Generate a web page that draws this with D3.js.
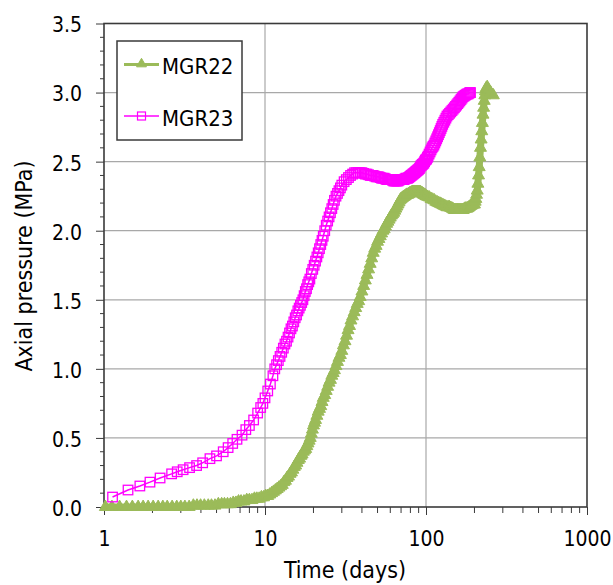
<!DOCTYPE html>
<html>
<head>
<meta charset="utf-8">
<script src="https://cdn.jsdelivr.net/npm/d3@7"></script>
<style>
  html, body { margin: 0; padding: 0; background: #fff; }
  svg { display: block; }
  text { font-family: "DejaVu Sans Condensed", "DejaVu Sans", sans-serif; font-stretch: condensed; fill: #000; }
</style>
</head>
<body>
<svg id="chart" width="613" height="585"></svg>
<script>
// ---------- data: [time (days), axial pressure (MPa)] ----------
const seriesNames = ["MGR22", "MGR23"];

const mgr22 = [
[1.02,0],[1.12,0],[1.25,0],[1.38,0],[1.5,0],[1.63,0],[1.75,0],[1.88,0],[2.02,0],[2.17,0],
[2.32,0],[2.47,0],[2.65,0],[2.83,0],[3.0,0],[3.18,0],[3.38,0],[3.59,0.01],[3.78,0.01],[3.98,0.01],
[4.2,0.01],[4.44,0.01],[4.65,0.01],[4.89,0.01],[5.13,0.02],[5.38,0.02],[5.6,0.02],[5.85,0.02],[6.1,0.02],[6.35,0.03],
[6.6,0.03],[6.85,0.04],[7.1,0.04],[7.4,0.04],[7.7,0.05],[8.0,0.05],[8.3,0.05],[8.6,0.06],[8.9,0.06],[9.2,0.06],
[9.5,0.07],[9.8,0.07],[10.1,0.08],[10.4,0.08],[10.7,0.09],[11.0,0.10],[11.3,0.11],[11.6,0.12],[11.9,0.13],[12.2,0.14],
[12.5,0.15],[12.8,0.16],[13.1,0.18],[13.4,0.19],[13.7,0.21],[14.0,0.22],[14.3,0.24],[14.6,0.25],[14.9,0.27],[15.2,0.29],
[15.5,0.30],[15.8,0.32],[16.1,0.34],[16.4,0.35],[16.7,0.37],[17.0,0.38],[17.3,0.40],[17.6,0.41],[17.9,0.42],[18.2,0.44],
[18.5,0.46],[18.8,0.48],[19.1,0.50],[19.4,0.53],[19.7,0.56],[20.0,0.59],[20.3,0.61],[20.6,0.63],[21.0,0.66],[21.4,0.69],
[21.8,0.71],[22.2,0.73],[22.6,0.76],[23.0,0.79],[23.5,0.81],[24.0,0.84],[24.5,0.87],[25.0,0.90],[25.5,0.92],[26.0,0.95],
[26.5,0.97],[27.0,0.99],[27.6,1.02],[28.2,1.05],[28.8,1.08],[29.4,1.10],[30.0,1.13],[30.7,1.17],[31.4,1.20],[32.1,1.24],
[32.8,1.28],[33.5,1.31],[34.2,1.35],[35.0,1.38],[35.8,1.41],[36.6,1.44],[37.4,1.47],[38.2,1.49],[39.0,1.52],[40.0,1.56],
[41.0,1.60],[42.0,1.64],[43.0,1.68],[44.0,1.72],[45.0,1.76],[46.0,1.80],[47.0,1.84],[48.0,1.87],[49.0,1.89],[50,1.92],
[51,1.94],[52,1.96],[53,1.98],[54,2.0],[55,2.01],[56,2.03],[57,2.05],[58,2.065],[59,2.08],[60,2.095],
[61,2.11],[62,2.12],[63,2.13],[64,2.145],[65,2.16],[66,2.175],[67,2.19],[68,2.205],[69,2.22],[70,2.23],
[71,2.235],[72,2.24],[73,2.245],[74,2.25],[75,2.255],[76,2.26],[77,2.26],[78,2.265],[79,2.27],[80,2.27],
[81,2.275],[82,2.28],[83,2.28],[84,2.28],[85,2.28],[86,2.28],[87,2.28],[88,2.28],[89,2.28],[90,2.28],
[91,2.28],[92,2.28],[93,2.275],[94,2.27],[95,2.27],[96,2.265],[97,2.26],[98,2.26],[99,2.255],[100,2.25],
[102.5,2.245],[105,2.24],[107.5,2.23],[110,2.225],[112.5,2.22],[115,2.21],[117.5,2.205],[120,2.20],[122.5,2.195],[125,2.19],
[127.5,2.185],[130,2.18],[132.5,2.175],[135,2.17],[137.5,2.17],[140,2.17],[142.5,2.165],[145,2.16],[147.5,2.155],[150,2.15],
[152.5,2.15],[155,2.15],[157.5,2.15],[160,2.15],[162.5,2.15],[165,2.15],[167.5,2.15],[170,2.15],[172.5,2.155],[175,2.16],
[177.5,2.16],[180,2.16],[182.5,2.165],[185,2.17],[187.5,2.175],[190,2.18],[192.5,2.185],[195,2.19],[197.5,2.19],[200,2.19],
[202,2.21],[204,2.23],[206,2.26],[208,2.29],[210,2.34],[212,2.40],[214,2.46],[216,2.53],[218,2.60],[220,2.66],
[222,2.72],[224,2.78],[226,2.84],[228,2.89],[230,2.94],[232,2.98],[234,3.01],[236,3.03],[240,3.04],[245,3.02],
[252,3.0],[262,2.98]
];

const mgr23 = [
[1.13,0.072],[1.41,0.123],[1.67,0.152],[1.93,0.18],[2.23,0.21],[2.63,0.24],[2.85,0.255],[3.1,0.27],[3.4,0.285],[3.76,0.30],
[4.1,0.32],[4.55,0.35],[5.0,0.37],[5.5,0.40],[5.9,0.43],[6.3,0.46],[6.7,0.49],[7.2,0.52],[7.6,0.56],[8.0,0.59],
[8.5,0.63],[9.0,0.68],[9.4,0.72],[9.7,0.75],[10.0,0.79],[10.4,0.84],[10.8,0.89],[11.2,0.95],[11.5,1.00],[11.8,1.03],
[12.1,1.06],[12.4,1.09],[12.7,1.12],[13.0,1.15],[13.3,1.18],[13.6,1.20],[13.9,1.23],[14.2,1.26],[14.5,1.29],[14.8,1.31],
[15.1,1.34],[15.4,1.37],[15.7,1.39],[16.0,1.42],[16.3,1.44],[16.6,1.46],[16.9,1.48],[17.2,1.50],[17.5,1.53],[17.8,1.56],
[18.1,1.58],[18.4,1.61],[18.7,1.63],[19.0,1.65],[19.4,1.69],[19.8,1.72],[20.2,1.75],[20.6,1.78],[21.0,1.81],[21.4,1.84],
[21.8,1.87],[22.2,1.90],[22.6,1.93],[23.0,1.96],[23.5,2.00],[24.0,2.04],[24.5,2.07],[25.0,2.10],[25.5,2.13],[26.0,2.16],
[26.5,2.19],[27.0,2.22],[27.6,2.25],[28.2,2.27],[28.8,2.29],[29.4,2.31],[30,2.33],[31,2.355],[32,2.37],[33,2.385],
[34,2.40],[35,2.41],[36,2.42],[37,2.42],[38,2.42],[39,2.42],[40,2.42],[41,2.415],[42,2.41],[43,2.41],
[44,2.405],[45,2.40],[46,2.40],[47,2.40],[48,2.395],[49,2.39],[50,2.39],[51,2.39],[52,2.385],[53,2.38],
[54,2.38],[55,2.38],[56,2.375],[57,2.37],[58,2.37],[59,2.37],[60,2.37],[61,2.37],[62,2.365],[63,2.36],
[64,2.36],[65,2.36],[66,2.36],[67,2.36],[68,2.365],[69,2.37],[70,2.37],[71,2.37],[72,2.37],[73,2.37],
[74,2.375],[75,2.38],[76,2.38],[77,2.38],[78,2.385],[79,2.39],[80,2.395],[81,2.40],[82,2.405],[83,2.41],
[84,2.415],[85,2.42],[86,2.425],[87,2.43],[88,2.435],[89,2.44],[90,2.445],[91,2.45],[92,2.46],[93,2.47],
[94,2.475],[95,2.48],[96,2.485],[97,2.49],[98,2.50],[99,2.51],[100,2.515],[101,2.52],[102,2.53],[103,2.54],
[104.5,2.555],[106,2.57],[107.5,2.585],[109,2.60],[110.5,2.61],[112,2.62],[113.5,2.635],[115,2.65],[116.5,2.665],[118,2.68],
[119.5,2.695],[121,2.71],[122.5,2.725],[124,2.74],[125.5,2.755],[127,2.77],[129,2.785],[131,2.80],[133,2.815],[135,2.83],
[137.5,2.84],[140,2.85],[142.5,2.86],[145,2.87],[147.5,2.88],[150,2.89],[152.5,2.90],[155,2.91],[157.5,2.92],[160,2.93],
[162.5,2.94],[165,2.95],[167.5,2.96],[170,2.97],[172.5,2.975],[175,2.98],[177.5,2.985],[180,2.99],[182.5,2.99],[185,2.995],
[187,3.00],[189,3.00]
];

const xTickValues = [1, 10, 100, 1000];
const xTickLabels = ["1", "10", "100", "1000"];
const yTickValues = [0, 0.5, 1.0, 1.5, 2.0, 2.5, 3.0, 3.5];
const yTickLabels = ["0.0", "0.5", "1.0", "1.5", "2.0", "2.5", "3.0", "3.5"];
const xTitle = "Time (days)";
const yTitle = "Axial pressure (MPa)";

// ---------- setup ----------
const svg = d3.select("#chart");
const W = 613, H = 585;
const plot = { left: 104, right: 587, top: 23.5, bottom: 507 };
const FONT = "'DejaVu Sans Condensed', 'DejaVu Sans', sans-serif";

const x = d3.scaleLog().domain([1, 1000]).range([plot.left, plot.right]);
const y = d3.scaleLinear().domain([0, 3.5]).range([plot.bottom, plot.top]);

const green = "#9BBB59";
const magenta = "#FF00FF";
const frameColor = "#3a3a3a";
const gridColor = "#a8a8a8";

svg.append("rect").attr("width", W).attr("height", H).attr("fill", "#fff");

// gridlines
const yGridVals = yTickValues.filter(v => v > 0 && v < 3.5);
svg.append("g").selectAll("line").data(yGridVals).join("line")
  .attr("x1", plot.left).attr("x2", plot.right)
  .attr("y1", d => y(d)).attr("y2", d => y(d))
  .attr("stroke", gridColor).attr("stroke-width", 1.2);
const xGridVals = xTickValues.filter(v => v > 1 && v < 1000);
svg.append("g").selectAll("line").data(xGridVals).join("line")
  .attr("x1", d => x(d)).attr("x2", d => x(d))
  .attr("y1", plot.top).attr("y2", plot.bottom)
  .attr("stroke", gridColor).attr("stroke-width", 1.2);

// minor ticks
const yMinor = d3.range(0, 36).map(i => i / 10).filter(v => !yTickValues.some(t => Math.abs(t - v) < 1e-9));
svg.append("g").selectAll("line").data(yMinor).join("line")
  .attr("x1", plot.left - 4).attr("x2", plot.left)
  .attr("y1", d => y(d)).attr("y2", d => y(d))
  .attr("stroke", frameColor).attr("stroke-width", 1);
const xMinor = [];
[1, 10, 100].forEach(dec => { for (let k = 2; k <= 9; k++) xMinor.push(dec * k); });
svg.append("g").selectAll("line").data(xMinor).join("line")
  .attr("x1", d => x(d)).attr("x2", d => x(d))
  .attr("y1", plot.bottom).attr("y2", plot.bottom + 6)
  .attr("stroke", frameColor).attr("stroke-width", 1);

// axes
const yAxis = d3.axisLeft(y).tickValues(yTickValues)
  .tickFormat((d, i) => yTickLabels[i]).tickSize(8).tickPadding(14);
const gy = svg.append("g").attr("transform", `translate(${plot.left},0)`).call(yAxis);
gy.select(".domain").remove();
gy.selectAll(".tick line").attr("stroke", frameColor).attr("stroke-width", 1);
gy.selectAll(".tick text").attr("font-size", 21).attr("dy", "0.4em").attr("font-family", FONT);

const xAxis = d3.axisBottom(x).tickValues(xTickValues)
  .tickFormat((d, i) => xTickLabels[i]).tickSize(8).tickPadding(16);
const gx = svg.append("g").attr("transform", `translate(0,${plot.bottom})`).call(xAxis);
gx.select(".domain").remove();
gx.selectAll(".tick line").attr("stroke", frameColor).attr("stroke-width", 1);
gx.selectAll(".tick text").attr("font-size", 21).attr("font-family", FONT);

// frame
svg.append("rect")
  .attr("x", plot.left).attr("y", plot.top)
  .attr("width", plot.right - plot.left).attr("height", plot.bottom - plot.top)
  .attr("fill", "none").attr("stroke", frameColor).attr("stroke-width", 1.6);

// titles
svg.append("text").attr("x", 345).attr("y", 578).attr("text-anchor", "middle")
  .attr("font-size", 23).text(xTitle);
svg.append("text").attr("transform", "translate(32,266) rotate(-90)")
  .attr("text-anchor", "middle").attr("font-size", 23).text(yTitle);

// series
const d22 = mgr22.map(([t, p]) => ({ t, p }));
const d23 = mgr23.map(([t, p]) => ({ t, p }));
const line = d3.line().x(d => x(d.t)).y(d => y(d.p));

const triSym = d3.symbol().type(d3.symbolTriangle).size(62);
const g22 = svg.append("g");
g22.append("path").datum(d22).attr("d", line)
  .attr("fill", "none").attr("stroke", green).attr("stroke-width", 7)
  .attr("stroke-linejoin", "round");
g22.selectAll("path.m").data(d22).join("path").attr("class", "m")
  .attr("d", triSym)
  .attr("transform", d => `translate(${x(d.t)},${y(d.p)})`)
  .attr("fill", green).attr("stroke", green).attr("stroke-width", 1);

const sq = 9.5;
const g23 = svg.append("g");
g23.append("path").datum(d23).attr("d", line)
  .attr("fill", "none").attr("stroke", magenta).attr("stroke-width", 1.5);
g23.selectAll("rect").data(d23).join("rect")
  .attr("x", d => x(d.t) - sq / 2).attr("y", d => y(d.p) - sq / 2)
  .attr("width", sq).attr("height", sq)
  .attr("fill", "none").attr("stroke", magenta).attr("stroke-width", 1.3);

// legend
const lg = svg.append("g");
lg.append("rect").attr("x", 117).attr("y", 41).attr("width", 125).attr("height", 99)
  .attr("fill", "#fff").attr("stroke", frameColor).attr("stroke-width", 1.5);
const legendRows = [
  { name: seriesNames[0], cy: 64.5, color: green, width: 3.2, marker: "tri" },
  { name: seriesNames[1], cy: 116, color: magenta, width: 1.5, marker: "sq" }
];
legendRows.forEach(r => {
  lg.append("line").attr("x1", 124).attr("x2", 159).attr("y1", r.cy).attr("y2", r.cy)
    .attr("stroke", r.color).attr("stroke-width", r.width);
  if (r.marker === "tri") {
    lg.append("path").attr("d", d3.symbol().type(d3.symbolTriangle).size(42)())
      .attr("transform", `translate(141.5,${r.cy - 0.5})`)
      .attr("fill", r.color).attr("stroke", r.color);
  } else {
    lg.append("rect").attr("x", 141.5 - 4).attr("y", r.cy - 4).attr("width", 8).attr("height", 8)
      .attr("fill", "none").attr("stroke", r.color).attr("stroke-width", 1.2);
  }
  lg.append("text").attr("x", 162).attr("y", r.cy + 9.5).attr("font-size", 22).text(r.name);
});
</script>
</body>
</html>
